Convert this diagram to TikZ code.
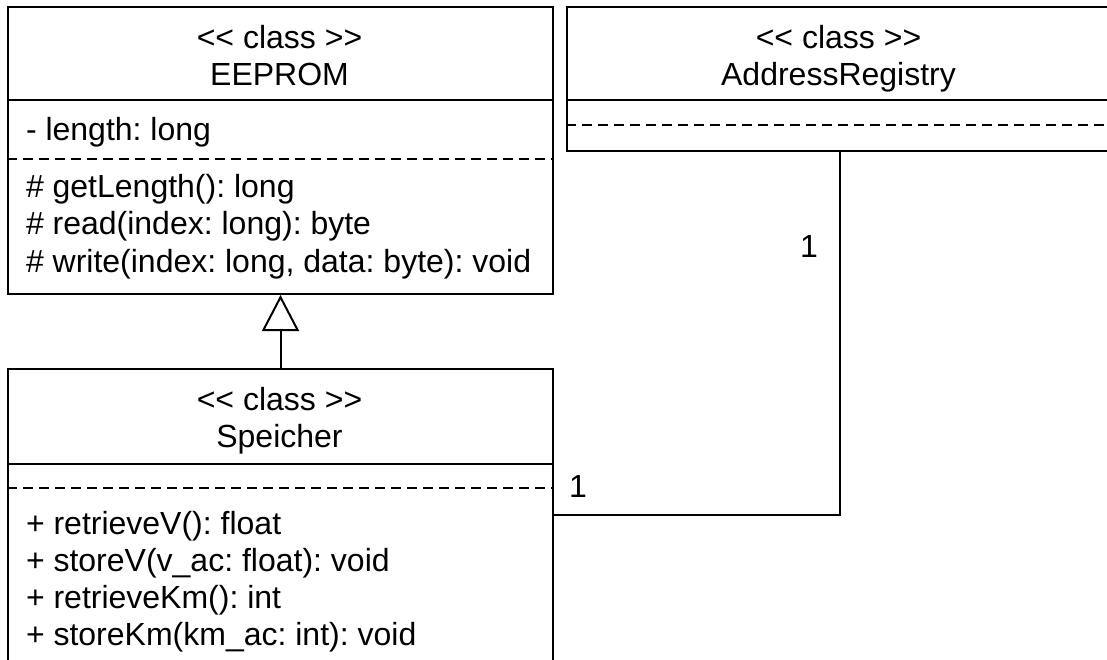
\documentclass[tikz,border=0pt]{standalone}
\usepackage{fontspec}
\setmainfont{Liberation Sans}
\usetikzlibrary{arrows.meta}
\newcommand{\stereo}{<\kern0pt< class >\kern0pt>}

\begin{document}
\begin{tikzpicture}[x=1pt,y=-1pt,line width=2pt,font=\fontsize{32}{37}\selectfont\frenchspacing,
  classbox/.style={draw,rectangle,anchor=north west,inner sep=0pt,minimum width=545pt},
  title/.style={anchor=base,inner sep=0pt},
  member/.style={anchor=base west,inner sep=0pt},
  sep/.style={dash pattern=on 9.5pt off 6.5pt},
  mult/.style={anchor=base,inner sep=0pt}]
\useasboundingbox (0,0) rectangle (1107,660);
\clip (0,0) rectangle (1107,660);
\node[classbox,minimum height=287pt] (eeprom) at (7,6) {};
\node[classbox,minimum height=144pt] (registry) at (566,6) {};
\node[classbox,minimum height=340pt] (speicher) at (7,368) {};
\draw (eeprom.west |- 0,100) -- (eeprom.east |- 0,100);
\draw[sep] (eeprom.west |- 0,159) -- (eeprom.east |- 0,159);
\draw (registry.west |- 0,100) -- (registry.east |- 0,100);
\draw[sep] (registry.west |- 0,125) -- (registry.east |- 0,125);
\draw (speicher.west |- 0,464) -- (speicher.east |- 0,464);
\draw[sep] (speicher.west |- 0,488) -- (speicher.east |- 0,488);
\node[title] (eeprom-st) at (279.5,49) {\stereo};
\node[title] (eeprom-name) at (279.5,86) {EEPROM};
\node[member] (eeprom-a1) at (25,141) {- length: long};
\node[member] (eeprom-m1) at (25,198) {\# getLength(): long};
\node[member] (eeprom-m2) at (25,235) {\# read(index: long): byte};
\node[member] (eeprom-m3) at (25,272) {\# write(index: long, data: byte): void};
\node[title] (registry-st) at (838.5,49) {\stereo};
\node[title] (registry-name) at (838.5,86) {AddressRegistry};
\node[title] (speicher-st) at (279.5,410) {\stereo};
\node[title] (speicher-name) at (279.5,447) {Speicher};
\node[member] (speicher-m1) at (25,534) {+ retrieveV(): float};
\node[member] (speicher-m2) at (25,571) {+ storeV(v\_ac: float): void};
\node[member] (speicher-m3) at (25,608) {+ retrieveKm(): int};
\node[member] (speicher-m4) at (25,645) {+ storeKm(km\_ac: int): void};
\draw[-{Triangle[open,length=36pt,width=37pt]},fill=white] (speicher.north) -- (eeprom.south);
\draw (speicher.east |- 0,515) -| (registry.south);
\node[mult] (mult-speicher) at (578,497) {1};
\node[mult] (mult-registry) at (809,257) {1};
\end{tikzpicture}
\end{document}
